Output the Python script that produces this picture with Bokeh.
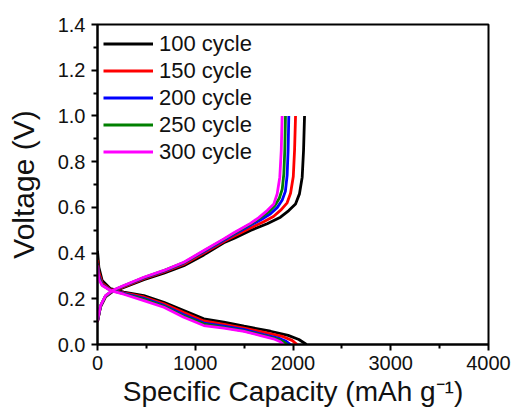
from bokeh.plotting import figure
from bokeh.models import Range1d, Legend, LegendItem, FixedTicker
from bokeh.embed import file_html
from bokeh.resources import INLINE

labels = ["100 cycle", "150 cycle", "200 cycle", "250 cycle", "300 cycle"]
colors = ["#000000", "#ff0000", "#0000ff", "#008000", "#ff00ff"]

# discharge curves (capacity mAh/g, voltage V)
dis_cap_head = [0, 14, 48, 133, 269, 474, 679, 883, 1088, 1292]
dis_cap_tail = [
    [1500, 1770, 1950, 2060, 2138],
    [1500, 1740, 1900, 1990, 2043],
    [1500, 1700, 1850, 1930, 1974],
    [1500, 1690, 1830, 1900, 1940],
    [1500, 1680, 1800, 1870, 1906],
]
dis_v = [
    [0.41, 0.338, 0.28, 0.244, 0.229, 0.214, 0.185, 0.149, 0.112, 0.098, 0.08, 0.058, 0.04, 0.022, 0.0],
    [0.37, 0.315, 0.268, 0.24, 0.226, 0.208, 0.178, 0.14, 0.103, 0.088, 0.072, 0.05, 0.034, 0.018, 0.0],
    [0.355, 0.3, 0.262, 0.238, 0.224, 0.202, 0.171, 0.13, 0.094, 0.08, 0.065, 0.043, 0.028, 0.014, 0.0],
    [0.35, 0.292, 0.26, 0.237, 0.222, 0.198, 0.167, 0.124, 0.089, 0.075, 0.06, 0.04, 0.025, 0.012, 0.0],
    [0.346, 0.285, 0.258, 0.236, 0.22, 0.192, 0.163, 0.119, 0.083, 0.072, 0.057, 0.038, 0.025, 0.012, 0.0],
]

# charge curves
chg_cap_head = [0, 31, 82, 150, 269, 474, 679, 883, 1088, 1292, 1400]
chg_cap_tail = [
    [1565, 1736, 1872, 1957, 2026, 2066, 2094, 2108, 2118],
    [1565, 1700, 1800, 1880, 1940, 1975, 2003, 2016, 2026],
    [1565, 1680, 1770, 1840, 1890, 1922, 1940, 1950, 1957],
    [1565, 1660, 1750, 1815, 1860, 1890, 1906, 1916, 1923],
    [1565, 1650, 1736, 1804, 1838, 1865, 1880, 1889],
]
chg_v = [
    [0.1, 0.165, 0.208, 0.23, 0.25, 0.284, 0.312, 0.345, 0.392, 0.445, 0.465,
     0.499, 0.528, 0.557, 0.586, 0.615, 0.659, 0.732, 0.85, 1.0],
    [0.1, 0.167, 0.21, 0.232, 0.253, 0.288, 0.317, 0.351, 0.4, 0.45, 0.475,
     0.51, 0.537, 0.56, 0.59, 0.62, 0.662, 0.735, 0.85, 1.0],
    [0.102, 0.168, 0.212, 0.234, 0.256, 0.291, 0.321, 0.356, 0.406, 0.456, 0.482,
     0.522, 0.548, 0.572, 0.6, 0.632, 0.67, 0.74, 0.85, 1.0],
    [0.104, 0.169, 0.213, 0.235, 0.257, 0.293, 0.323, 0.358, 0.409, 0.46, 0.487,
     0.527, 0.553, 0.58, 0.608, 0.64, 0.68, 0.745, 0.85, 1.0],
    [0.105, 0.17, 0.214, 0.236, 0.258, 0.294, 0.324, 0.36, 0.411, 0.462, 0.49,
     0.53, 0.555, 0.586, 0.615, 0.659, 0.732, 0.85, 1.0],
]

x_ticks = [0, 1000, 2000, 3000, 4000]
y_ticks = [0.0, 0.2, 0.4, 0.6, 0.8, 1.0, 1.2, 1.4]

FONT = "Liberation Sans"

p = figure(frame_width=391, frame_height=320, output_backend="svg", toolbar_location=None,
           x_range=Range1d(0, 4000), y_range=Range1d(0, 1.4),
           min_border_left=97, min_border_right=27, min_border_top=24, min_border_bottom=71)
p.width = 515
p.height = 415
p.grid.visible = False
p.outline_line_color = "black"
p.outline_line_width = 2
p.background_fill_color = "white"
p.border_fill_color = "white"

p.xaxis.ticker = FixedTicker(ticks=x_ticks, minor_ticks=[500, 1500, 2500, 3500])
p.yaxis.ticker = FixedTicker(ticks=y_ticks, minor_ticks=[0.1, 0.3, 0.5, 0.7, 0.9, 1.1, 1.3])
p.xaxis.major_label_overrides = {t: str(t) for t in x_ticks}
p.yaxis.major_label_overrides = {t: "%.1f" % t for t in y_ticks}
p.xaxis.axis_label = "Specific Capacity (mAh g\u207B\u00B9)"
p.yaxis.axis_label = "Voltage (V)"

for ax in (p.xaxis, p.yaxis):
    ax.axis_line_width = 2
    ax.axis_line_color = "black"
    ax.major_tick_line_width = 2
    ax.minor_tick_line_width = 2
    ax.major_tick_out = 6
    ax.major_tick_in = 0
    ax.minor_tick_out = 4
    ax.minor_tick_in = 0
    ax.major_label_text_font = FONT
    ax.major_label_text_font_size = "20px"
    ax.major_label_text_color = "#111111"
    ax.axis_label_text_font = FONT
    ax.axis_label_text_font_style = "normal"
    ax.axis_label_text_color = "#111111"
p.xaxis.axis_label_text_font_size = "28px"
p.yaxis.axis_label_text_font_size = "30px"
p.xaxis.major_label_standoff = 5
p.yaxis.major_label_standoff = 6
p.xaxis.axis_label_standoff = 3
p.yaxis.axis_label_standoff = 15

items = []
for i in range(5):
    dc = dis_cap_head + dis_cap_tail[i]
    cc = chg_cap_head + chg_cap_tail[i]
    p.line(dc, dis_v[i], line_color=colors[i], line_width=2.8)
    r = p.line(cc, chg_v[i], line_color=colors[i], line_width=2.8)
    items.append(LegendItem(label=labels[i], renderers=[r]))

leg = Legend(items=items, location="top_left")
leg.border_line_color = None
leg.background_fill_alpha = 0
leg.label_text_font = FONT
leg.label_text_font_size = "22px"
leg.label_text_color = "#111111"
leg.glyph_width = 50
leg.glyph_height = 27
leg.label_height = 27
leg.spacing = 0
leg.padding = 0
leg.margin = 6
leg.label_standoff = 6
p.add_layout(leg)

open("out.html", "w").write(file_html(p, INLINE))
